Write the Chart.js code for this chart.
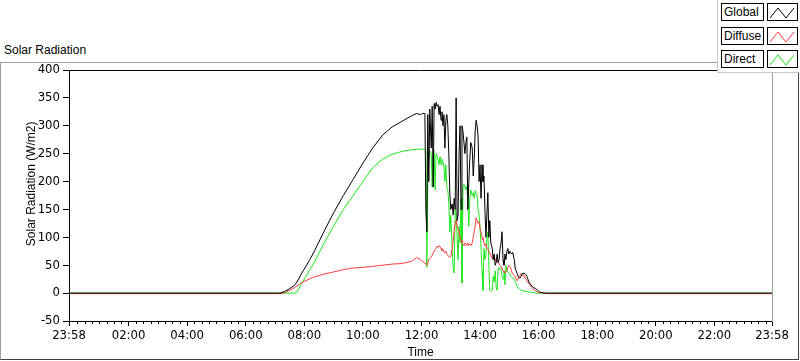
<!DOCTYPE html>
<html>
<head>
<meta charset="utf-8">
<script src="https://cdn.jsdelivr.net/npm/chart.js@4.4.1/dist/chart.umd.min.js"></script>
<style>
  html, body { margin: 0; padding: 0; background: #fff; }
  body { width: 800px; height: 361px; position: relative; overflow: hidden; font-family: "Liberation Sans", Arial, sans-serif; }
  #title { position: absolute; left: 4px; top: 43px; font-size: 12px; line-height: 14px; color: #000; }
  #frame { position: absolute; left: 0; top: 62px; width: 799px; height: 298px; box-sizing: border-box;
           border-left: 1px solid #a0a0a0; border-top: 1px solid #a0a0a0;
           border-right: 1px solid #404040; border-bottom: 1px solid #404040; }
  #chart { position: absolute; left: 0; top: 0; }
  #legend { position: absolute; left: 717px; top: 0; width: 83px; height: 73px; box-sizing: border-box;
            background: #fff; border-left: 1px solid #c8c8c8; border-bottom: 1px solid #c8c8c8; }
  .row { position: absolute; left: 3px; height: 18px; display: flex; }
  .name { width: 43px; height: 18px; box-sizing: border-box; border: 1px solid #000;
          font-size: 12px; line-height: 16px; padding-left: 2px; color: #000; }
  .icon { margin-left: 3px; width: 31px; height: 18px; box-sizing: border-box; border: 1px solid #000; }
  .icon svg { display: block; }
</style>
</head>
<body>
<div id="title">Solar Radiation</div>
<div id="frame"></div>
<canvas id="chart" width="800" height="361"></canvas>
<div id="legend"></div>
<script>
// minutes after midnight; the axis runs from 23:58 to 23:58
const times = [
  -2, 430, 440, 450, 460, 465, 475, 490, 500, 520, 540, 560, 580, 600, 620, 640, 660, 680, 700, 710, 718, 722,
  727, 729, 731, 733, 735, 737, 740, 742, 744, 746, 748, 750, 752, 754, 756, 758, 760, 762, 764, 766,
  768, 770, 772, 774, 776, 778, 780, 783, 785, 787, 789, 791, 793, 795, 797, 799, 801, 803, 805, 807,
  809, 811, 813, 815, 817, 819, 821, 824, 826, 828, 830, 832, 834, 836, 838, 840, 842, 844, 846, 848,
  850, 852, 854, 856, 858, 860, 862, 865, 867, 869, 871, 873, 875, 877, 879, 881, 883, 885, 887, 889,
  891, 893, 895, 897, 899, 901, 903, 905, 907, 910, 912, 914, 916, 918, 920, 922, 924, 926, 928, 930,
  932, 934, 936, 938, 940, 942,
  946, 950, 954, 958, 962, 971, 979, 1438
];

const globalWm2 = [
  0, 0, 3, 8, 14, 20, 36, 58, 74, 110, 144, 175, 204, 233, 260, 283, 298, 308, 318, 322, 320, 322,
  322, 150, 110, 320, 200, 330, 260, 335, 190, 340, 330, 342, 335, 338, 320, 335, 310, 325, 300, 320,
  260, 310, 320, 300, 250, 180, 150, 160, 140, 170, 150, 350, 130, 140, 250, 300, 150, 300, 290, 270,
  250, 270, 280, 150, 200, 240, 270, 260, 210, 240, 290, 310, 300, 280, 200, 230, 170, 230, 200, 210,
  150, 100, 140, 180, 100, 130, 90, 80, 60, 70, 50, 55, 70, 55, 60, 80, 90, 110, 60, 50,
  70, 60, 75, 80, 70, 75, 72, 70, 73, 60, 45, 40, 35, 30, 28, 27, 30, 34, 36, 35,
  35, 33, 30, 25, 20, 17,
  13, 10, 8, 5, 2, 0, 0, 0
];

const diffuseWm2 = [
  -1, -1, 1, 5, 10, 13, 19, 25, 29, 34, 38, 42, 45, 46, 48, 50, 52, 53, 57, 64, 60, 57,
  54, 52, 50, 55, 60, 62, 65, 68, 72, 75, 78, 80, 84, 82, 85, 83, 80, 76, 78, 74,
  72, 75, 70, 68, 65, 64, 66, 80, 95, 115, 125, 130, 120, 115, 110, 100, 95, 90, 88, 85,
  90, 88, 85, 90, 86, 88, 85, 90, 100, 110, 120, 135, 130, 125, 128, 115, 110, 100, 95, 90,
  85, 88, 80, 78, 75, 72, 68, 62, 65, 60, 58, 62, 55, 58, 52, 50, 48, 45, 40, 38,
  36, 38, 40, 46, 50, 48, 44, 38, 35, 32, 30, 25, 22, 25, 30, 32, 35, 33, 32, 30,
  28, 25, 22, 20, 17, 15,
  10, 6, 4, 2, 1, 0, -1, -1
];

const directWm2 = [
  0, 0, 0, 0, 0, 2, 18, 40, 54, 89, 120, 150, 175, 200, 225, 240, 249, 254, 257, 258, 258, 258,
  257, 255, 46, 200, 240, 255, 250, 190, 250, 255, 185, 250, 245, 240, 230, 245, 230, 240, 235, 225,
  200, 230, 190, 185, 160, 110, 140, 80, 45, 36, 150, 140, 100, 60, 120, 90, 170, 18, 190, 195,
  190, 185, 192, 160, 120, 170, 185, 175, 180, 170, 184, 178, 175, 150, 140, 120, 80, 40, 5, 80,
  60, 70, 100, 110, 50, 5, 3, 5, 30, 20, 40, 10, 5, 45, 42, 46, 44, 30, 25, 40,
  15, 50, 40, 38, 36, 35, 30, 28, 27, 25, 20, 18, 12, 9, 8, 6, 5, 5, 4, 4,
  3, 3, 3, 2, 2, 2,
  1, 1, 0, 0, 0, 0, 0, 0
];

const timeTicks = [-2, 120, 240, 360, 480, 600, 720, 840, 960, 1080, 1200, 1320, 1438];
const timeLabels = ['23:58', '02:00', '04:00', '06:00', '08:00', '10:00', '12:00',
                    '14:00', '16:00', '18:00', '20:00', '22:00', '23:58'];

// small ticks every quarter hour between the labelled ones
const minorTicks = [];
for (let m = 15; m < 1438; m += 15) {
  if (m % 120 !== 0) minorTicks.push(m);
}

const tickFont = { family: "'Liberation Sans Narrow', 'DejaVu Sans Condensed', 'Liberation Sans'", size: 13 };
const labelFont = { family: "'Liberation Sans', Arial, sans-serif", size: 12 };

const series = (values) => times.map((t, i) => ({ x: t, y: values[i] }));

const plotFrame = {
  id: 'plotFrame',
  afterDraw(chart) {
    const { ctx, chartArea: a, scales: { x } } = chart;
    ctx.save();
    ctx.lineWidth = 1;
    ctx.strokeStyle = '#000';
    ctx.beginPath();
    ctx.moveTo(a.left, a.top + 0.5);
    ctx.lineTo(a.right, a.top + 0.5);
    ctx.stroke();
    ctx.strokeStyle = '#a0a0a0';
    ctx.beginPath();
    ctx.moveTo(a.right + 0.5, a.top);
    ctx.lineTo(a.right + 0.5, a.bottom + 1);
    ctx.stroke();
    ctx.strokeStyle = '#000';
    ctx.beginPath();
    minorTicks.forEach((m) => {
      const px = Math.round(x.getPixelForValue(m)) + 0.5;
      ctx.moveTo(px, a.bottom);
      ctx.lineTo(px, a.bottom + 3);
    });
    ctx.stroke();
    ctx.restore();
  },
};

const htmlLegend = {
  id: 'htmlLegend',
  afterUpdate(chart) {
    const box = document.getElementById('legend');
    box.innerHTML = '';
    chart.data.datasets.forEach((ds, i) => {
      const row = document.createElement('div');
      row.className = 'row';
      row.style.top = Math.round(3 + i * 23.5) + 'px';
      const name = document.createElement('div');
      name.className = 'name';
      name.textContent = ds.label;
      const icon = document.createElement('div');
      icon.className = 'icon';
      icon.innerHTML = '<svg width="29" height="16"><polyline points="2,14 10,4 18,14 26,4" fill="none" stroke="' +
        ds.borderColor + '" stroke-width="1"/></svg>';
      row.appendChild(name);
      row.appendChild(icon);
      box.appendChild(row);
    });
  },
};

new Chart(document.getElementById('chart'), {
  type: 'line',
  data: {
    datasets: [
      { label: 'Global', data: series(globalWm2), borderColor: '#000000' },
      { label: 'Diffuse', data: series(diffuseWm2), borderColor: '#ff3c3c' },
      { label: 'Direct', data: series(directWm2), borderColor: '#1ee61e' },
    ],
  },
  options: {
    responsive: false,
    animation: false,
    events: [],
    layout: { padding: { top: 70, right: 28, left: 0, bottom: 0 } },
    elements: {
      line: { borderWidth: 1, tension: 0, fill: false },
      point: { radius: 0 },
    },
    plugins: {
      legend: { display: false },
      tooltip: { enabled: false },
    },
    scales: {
      x: {
        type: 'linear',
        min: -2,
        max: 1438,
        afterBuildTicks: (scale) => { scale.ticks = timeTicks.map((v) => ({ value: v })); },
        afterFit: (scale) => { scale.height = 40; },
        ticks: {
          autoSkip: false,
          maxRotation: 0,
          padding: 2,
          color: '#000',
          font: tickFont,
          callback: (value, index) => timeLabels[index],
        },
        grid: { drawOnChartArea: false, tickLength: 5, color: '#000' },
        border: { color: '#000' },
        title: { display: true, text: 'Time', color: '#000', font: labelFont, padding: { top: 0, bottom: 1 } },
      },
      y: {
        min: -50,
        max: 400,
        afterFit: (scale) => { scale.width = 69; },
        ticks: { stepSize: 50, padding: 3, color: '#000', font: tickFont },
        grid: { drawOnChartArea: false, tickLength: 6, color: '#000' },
        border: { color: '#000' },
        // leading spaces lift the title a little above the axis centre, as in the original
        title: { display: true, text: '       Solar Radiation (W/m2)', color: '#000', font: labelFont, padding: { top: 24, bottom: 0 } },
      },
    },
  },
  plugins: [plotFrame, htmlLegend],
});
</script>
</body>
</html>
